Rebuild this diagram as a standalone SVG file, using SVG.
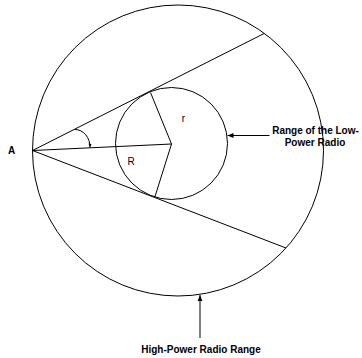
<svg xmlns="http://www.w3.org/2000/svg" width="362" height="358" viewBox="0 0 362 358">
<defs>
<style>
.ln{fill:none;stroke:#000;stroke-width:1}
.lb{font-family:"Liberation Sans",Arial,sans-serif;font-size:10px;font-weight:bold;fill:#000}
.lr{font-family:"Liberation Sans",Arial,sans-serif;font-size:10px;fill:#000}
</style>
<marker id="ah" viewBox="0 0 10 10" refX="10" refY="5" markerWidth="6" markerHeight="6" orient="auto" markerUnits="userSpaceOnUse">
<path d="M0,1 L10,5 L0,9 Z" fill="#000"/>
</marker>
<marker id="ahs" viewBox="0 0 10 10" refX="10" refY="5" markerWidth="4" markerHeight="4" orient="auto" markerUnits="userSpaceOnUse">
<path d="M0,1 L10,5 L0,9 Z" fill="#000"/>
</marker>
</defs>
<rect width="362" height="358" fill="#fff"/>
<g id="high-power-range">
<circle class="ln" cx="178" cy="150.5" r="145.5"/>
</g>
<g id="low-power-range">
<circle class="ln" cx="171.5" cy="143.5" r="56"/>
</g>
<g id="point-A">
<text class="lb" x="8" y="154">A</text>
</g>
<g id="connectors">
<line class="ln" x1="32.5" y1="150.5" x2="264.3" y2="33.4"/>
<line class="ln" x1="32.5" y1="150.5" x2="286" y2="248"/>
<line class="ln" x1="32.5" y1="150.5" x2="171.5" y2="144"/>
<line class="ln" x1="171.5" y1="144" x2="150.5" y2="92.5"/>
<line class="ln" x1="171.5" y1="144" x2="155" y2="196.5"/>
<path class="ln" d="M75,129.5 A15,17.5 0 0 1 90,147.5" marker-end="url(#ahs)"/>
<line class="ln" x1="269.5" y1="135.5" x2="227.5" y2="135.5" marker-end="url(#ah)"/>
<line class="ln" x1="200" y1="338" x2="200" y2="295" marker-end="url(#ah)"/>
</g>
<g id="labels">
<text class="lr" x="183.5" y="121.5" text-anchor="middle">r</text>
<text class="lr" x="131" y="165" text-anchor="middle">R</text>
<text class="lb" x="315.5" y="134" text-anchor="middle">Range of the Low-</text>
<text class="lb" x="315" y="146" text-anchor="middle">Power Radio</text>
<text class="lb" x="201" y="353" text-anchor="middle">High-Power Radio Range</text>
</g>
</svg>
